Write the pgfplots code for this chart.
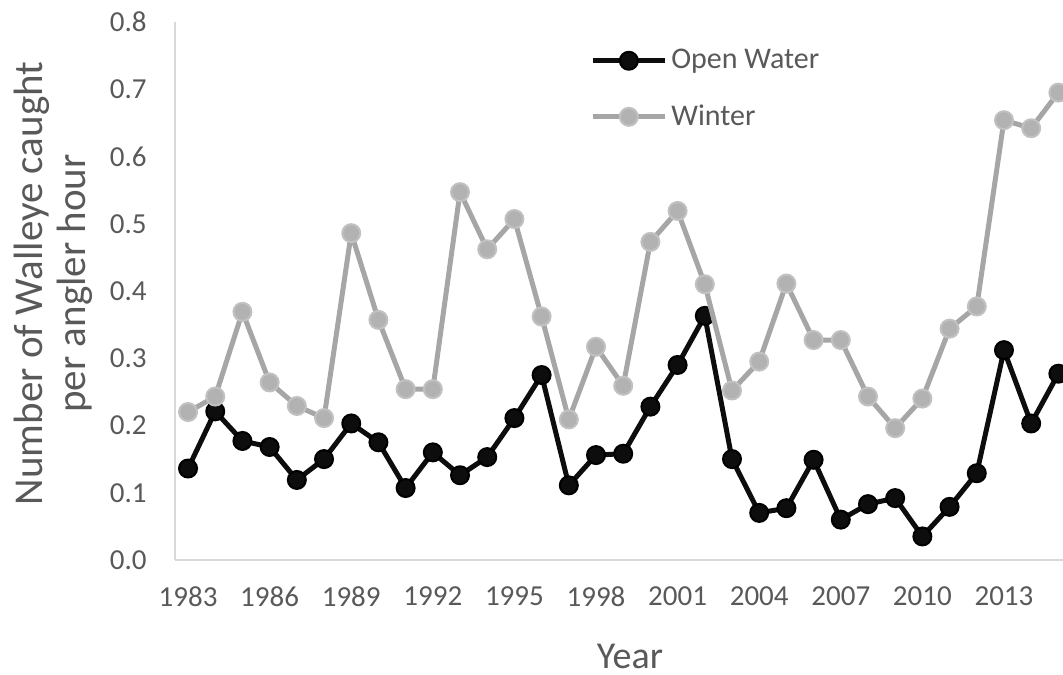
\documentclass[border=0pt]{standalone}
\usepackage{fontspec}
\setmainfont{Carlito}
\usepackage{pgfplots}
\pgfplotsset{compat=1.18}
\definecolor{txt}{HTML}{595959}
\definecolor{axl}{HTML}{D9D9D9}
\definecolor{ow}{HTML}{0D0D0D}
\definecolor{wl}{HTML}{A6A6A6}
\definecolor{wm}{HTML}{B2B2B2}
\begin{document}
\begin{tikzpicture}
\begin{axis}[name=ax, scale only axis, width=444pt, height=269pt,
 xmin=1982.52, xmax=2015.17, ymin=0, ymax=0.8,
 axis x line*=bottom, axis y line*=left,
 axis line style={draw=axl, line width=1pt},
 xtick={1983,1986,1989,1992,1995,1998,2001,2004,2007,2010,2013},
 ytick={0,0.1,0.2,0.3,0.4,0.5,0.6,0.7,0.8},
 major tick length=0pt,
 /pgf/number format/assume math mode=true,
 tick label style={font=\fontsize{14.5}{17}\selectfont, text=txt},
 xticklabel style={/pgf/number format/1000 sep={}, anchor=north, inner sep=0pt, yshift=-13pt},
 yticklabel style={/pgf/number format/fixed, /pgf/number format/fixed zerofill, /pgf/number format/precision=1, anchor=east, inner sep=0pt, xshift=-14pt},
 ylabel={Number of Walleye caught\\per angler hour},
 every axis y label/.style={at={(axis description cs:-0.1368,0.514)}, rotate=90, anchor=center, align=center, font=\fontsize{20.5}{21.5}\selectfont, text=txt},
 xlabel={Year},
 every axis x label/.style={at={(axis description cs:0.5124,-0.201)}, anchor=base, font=\fontsize{19}{21.5}\selectfont, text=txt},
 legend cell align=left,
 legend style={at={(axis description cs:0.4673,0.957)}, anchor=north west, draw=none, fill=none, font=\fontsize{15}{18}\selectfont, text=txt, row sep=12.5pt, inner sep=0pt},
 legend image code/.code={\draw[#1, mark repeat=2, mark phase=2] plot coordinates {(0pt,0pt) (18pt,0pt) (36pt,0pt)};},
 clip marker paths=true,
]
\addplot[color=ow, line width=2.5pt, line join=round, mark=*, mark size=4.5pt, mark options={fill=ow, draw=black, line width=1pt}] coordinates {
(1983,0.136) (1984,0.221) (1985,0.177) (1986,0.168) (1987,0.119) (1988,0.150) (1989,0.203) (1990,0.175) (1991,0.107) (1992,0.160) (1993,0.126) (1994,0.153) (1995,0.211) (1996,0.275) (1997,0.111) (1998,0.156) (1999,0.158) (2000,0.228) (2001,0.290) (2002,0.363) (2003,0.150) (2004,0.070) (2005,0.077) (2006,0.149) (2007,0.060) (2008,0.083) (2009,0.092) (2010,0.035) (2011,0.079) (2012,0.129) (2013,0.312) (2014,0.203) (2015,0.277)};
\addlegendentry{Open Water}
\addplot[color=wl, line width=2.5pt, line join=round, mark=*, mark size=4.5pt, mark options={fill=wm, draw=wm!80!white, line width=1pt}] coordinates {
(1983,0.220) (1984,0.243) (1985,0.369) (1986,0.264) (1987,0.229) (1988,0.211) (1989,0.486) (1990,0.357) (1991,0.254) (1992,0.254) (1993,0.547) (1994,0.462) (1995,0.507) (1996,0.362) (1997,0.209) (1998,0.317) (1999,0.259) (2000,0.473) (2001,0.519) (2002,0.410) (2003,0.252) (2004,0.295) (2005,0.411) (2006,0.327) (2007,0.327) (2008,0.243) (2009,0.196) (2010,0.240) (2011,0.344) (2012,0.377) (2013,0.654) (2014,0.642) (2015,0.695)};
\addlegendentry{Winter}
\end{axis}
\pgfresetboundingbox
\path[use as bounding box] ([xshift=-87.5pt,yshift=-57.5pt]ax.south west) rectangle ([yshift=11pt]ax.north east);
\end{tikzpicture}
\end{document}
